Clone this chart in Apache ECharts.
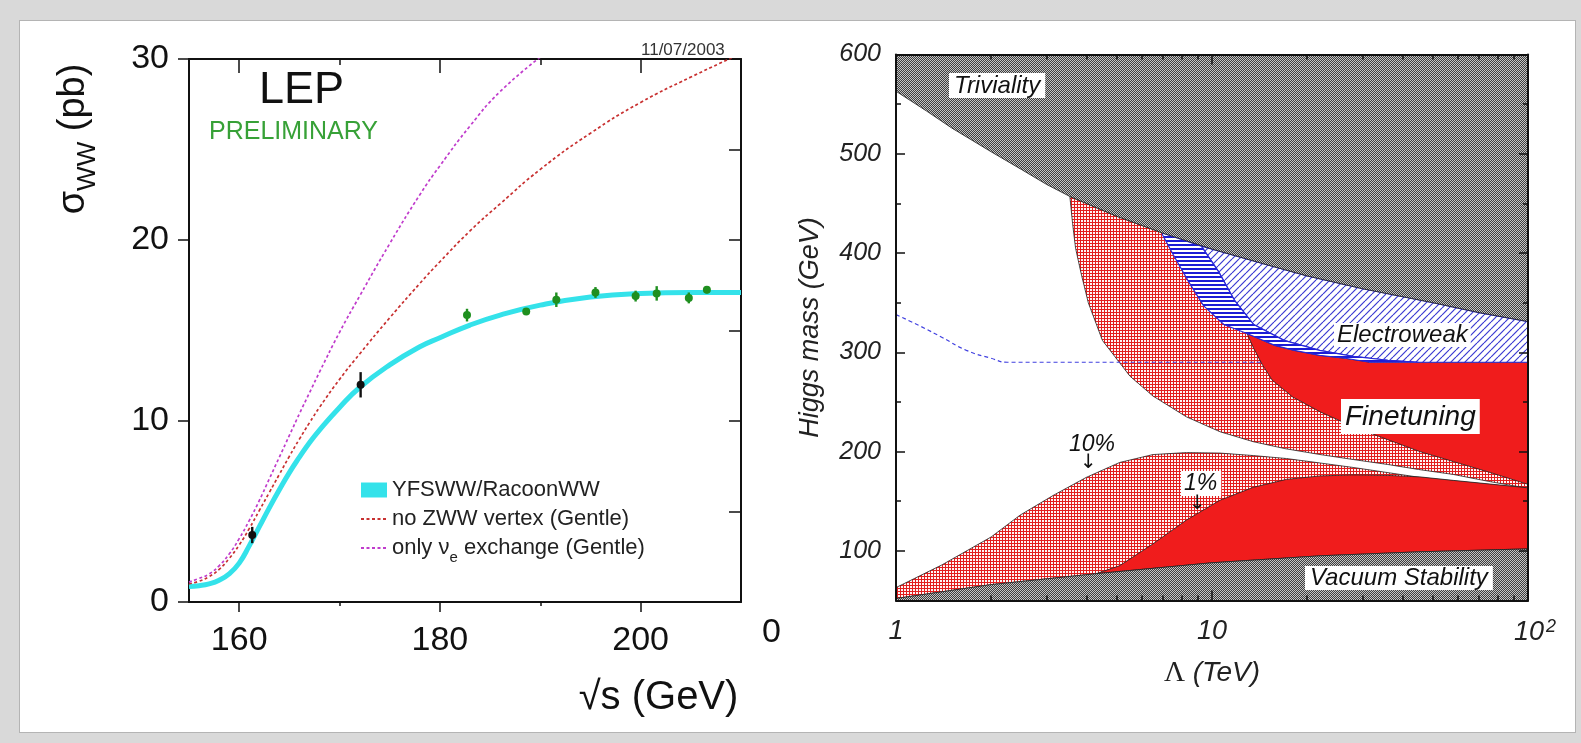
<!DOCTYPE html>
<html>
<head>
<meta charset="utf-8">
<script src="https://cdn.jsdelivr.net/npm/echarts@6/dist/echarts.min.js"></script>
<style>
  html, body { margin: 0; padding: 0; width: 1581px; height: 743px; overflow: hidden; background: #d9d9d9; }
  #frame { position: absolute; left: 19px; top: 20px; width: 1555px; height: 711px; background: #fff; border: 1px solid #b4b4b4; }
  #chart { position: absolute; left: 0; top: 0; width: 1581px; height: 743px; }
</style>
</head>
<body>
<div id="frame"></div>
<div id="chart"></div>
<script>
// ---- left panel: LEP W-pair cross section ----
const wwEnergy = [161.3, 172.1, 182.7, 188.6, 191.6, 195.5, 199.5, 201.6, 204.8, 206.6]
const wwSigma = [3.7, 12.0, 15.85, 16.05, 16.7, 17.1, 16.9, 17.05, 16.8, 17.25]
const wwError = [0.45, 0.7, 0.35, 0.15, 0.4, 0.3, 0.3, 0.4, 0.3, 0.2]

const curveEnergy = [155, 156, 157, 158, 159, 160, 161, 162, 163, 164, 165, 166, 167, 168, 170, 172, 175, 178, 180, 183, 186, 190, 195, 200, 205, 210]
const yfswwSigma = [0.85, 0.9, 1.0, 1.2, 1.55, 2.15, 3.1, 4.15, 5.2, 6.2, 7.15, 8.0, 8.8, 9.5, 10.75, 11.85, 13.1, 14.1, 14.6, 15.3, 15.85, 16.4, 16.85, 17.05, 17.1, 17.1]
const noZwwSigma = [1.0, 1.15, 1.4, 1.8, 2.4, 3.15, 4.05, 5.05, 6.05, 7.05, 8.05, 9.0, 9.9, 10.75, 12.3, 13.7, 15.7, 17.6, 18.8, 20.5, 22.0, 23.9, 25.9, 27.6, 29.0, 30.3]
const nueOnlySigma = [1.1, 1.3, 1.55, 2.0, 2.65, 3.5, 4.5, 5.6, 6.8, 8.0, 9.2, 10.4, 11.55, 12.7, 14.9, 16.9, 19.8, 22.5, 24.1, 26.3, 28.2, 30.1, null, null, null, null]

const sigmaTicks = [0, 10, 20, 30]
const energyTicks = [160, 180, 200]

// ---- right panel: Higgs mass bounds vs cutoff (pairs of [Lambda TeV, mH GeV]) ----
const trivialityEdge = [[1, 563], [1.25, 543], [1.5, 526], [2, 502], [2.5, 484], [3, 469], [3.55, 457], [5, 437], [7, 420], [10, 404], [15, 388], [20, 377], [30, 364], [50, 350], [70, 340], [100, 331]]
const fineTune10UpperEdge = [[3.55, 457], [3.62, 430], [3.7, 405], [3.85, 380], [4.06, 350], [4.5, 312], [5.5, 276], [6.5, 256], [8.3, 235], [10.6, 220], [13.5, 210], [17, 203], [22, 197], [28, 192], [36, 187], [45, 182], [58, 177], [75, 170], [100, 163]]
const fineTune1UpperEdge = [[12.9, 319], [13.55, 304], [14.4, 288], [15.5, 272], [18, 255], [22, 240], [28, 225], [36, 212], [45.5, 200], [58, 190], [74, 180], [100, 167]]
const ewOuterEdge = [[6.96, 419], [7.55, 398], [8.44, 371], [9.4, 347], [10.9, 328], [12.9, 319], [15.8, 307], [18.2, 302], [21.9, 297], [26.4, 294], [31.6, 290], [100, 290]]
const ewInnerEdge = [[9.25, 407], [10.5, 381], [11.8, 352], [13.55, 328], [16.9, 312], [21.9, 302], [28, 296], [36, 292], [45, 290]]
const ewDashed = [[1, 338], [1.2, 326], [1.4, 315], [1.67, 302], [2, 294], [2.25, 290], [14.4, 290]]
const fineTune10LowerTop = [[1, 63], [1.4, 86], [2, 114], [2.47, 136], [3.15, 156], [4, 174], [5.1, 189], [6.5, 197], [8.3, 199], [10.6, 198.5], [13.5, 196], [17.2, 193], [22, 188.5], [28, 184], [45.5, 174], [100, 163]]
const fineTune1LowerTop = [[4.3, 77], [5.1, 85], [6.5, 107], [8.3, 131], [10.6, 151], [13.5, 164], [17.2, 172], [22, 175.5], [28, 176.5], [36, 176], [45.5, 174.5], [58, 171], [100, 163.5]]
const vacuumEdge = [[1, 52], [2, 66], [4.3, 77], [10, 88], [22, 95], [45, 99], [100, 102]]

const lambdaTicks = [1, 10, 100]
const lambdaMinorTicks = [2, 3, 4, 5, 6, 7, 8, 9, 20, 30, 40, 50, 60, 70, 80, 90]
const massTicks = [100, 200, 300, 400, 500, 600]
const massMinorTicks = [150, 250, 350, 450, 550]

const SANS = "Liberation Sans"

function pattern(w, h, draw) {
  const c = document.createElement("canvas")
  c.width = w
  c.height = h
  draw(c.getContext("2d"))
  return { image: c, repeat: "repeat" }
}

const grayFill = pattern(2, 2, g => {
  g.fillStyle = "#3e3e3e"; g.fillRect(0, 0, 2, 2)
  g.fillStyle = "#c4c4c4"; g.fillRect(0, 0, 1, 1); g.fillRect(1, 1, 1, 1)
})
const crossFill = pattern(3, 3, g => {
  g.fillStyle = "#e21e1e"; g.fillRect(0, 0, 3, 3)
  g.fillStyle = "#fff4f4"; g.fillRect(1, 1, 2, 2)
})
const diagFill = pattern(7, 7, g => {
  g.fillStyle = "#fff"; g.fillRect(0, 0, 7, 7)
  g.strokeStyle = "#3a3ad2"; g.lineWidth = 1.2
  for (const k of [-7, 0, 7]) { g.beginPath(); g.moveTo(k, 7); g.lineTo(k + 7, 0); g.stroke() }
})
const hlineFill = pattern(4, 4, g => {
  g.fillStyle = "#fff"; g.fillRect(0, 0, 4, 4)
  g.fillStyle = "#1c1cd6"; g.fillRect(0, 0, 4, 2)
})

const above = (pts, l) => pts.filter(p => p[0] > l)
const rev = pts => pts.slice().reverse()

const polyTriv = trivialityEdge.concat([[100, 600], [1, 600]])
const polyVac = [[1, 50], [100, 50]].concat(rev(vacuumEdge))
const polyFt10Up = fineTune10UpperEdge.concat(rev(above(trivialityEdge, 3.55)))
const polyFt1Up = fineTune1UpperEdge.concat(rev(above(ewOuterEdge, 12.9)))
const polyEwHatch = ewInnerEdge.concat([[100, 290]], rev(above(trivialityEdge, 9.25)))
const polyEwBand = ewOuterEdge.filter(p => p[0] <= 45).concat([[45, 290]], rev(ewInnerEdge), [[7, 420]])
const polyFt10Low = vacuumEdge.concat(rev(fineTune10LowerTop))
const polyFt1Low = fineTune1LowerTop.concat(rev(above(vacuumEdge, 4.3)))

function region(points, fill, stroke, lw) {
  return {
    type: "custom",
    xAxisIndex: 4,
    yAxisIndex: 2,
    clip: true,
    silent: true,
    z: 2,
    data: [points[0]],
    renderItem: (params, api) => ({
      type: "polygon",
      shape: { points: points.map(p => api.coord(p)) },
      style: { fill: fill, stroke: stroke, lineWidth: lw }
    })
  }
}

function axis(grid, position, type, min, max, o) {
  const a = {
    gridIndex: grid, position: position, type: type, min: min, max: max,
    splitLine: { show: false },
    axisLine: { show: !!o.line, onZero: false, lineStyle: { color: "#111", width: 2 } },
    axisTick: { show: !!o.ticks, inside: !!o.inside, length: o.len || 6, customValues: o.ticks, lineStyle: { color: "#111", width: 1.5 } },
    axisLabel: { show: false },
    z: grid === 1 ? 10 : 0
  }
  if (type === "log") a.logBase = 10
  return a
}

const xAxes = [
  axis(0, "bottom", "value", 155, 210, { line: true, ticks: energyTicks, len: 10 }),
  axis(0, "bottom", "value", 155, 210, { ticks: [170, 190], len: 4 }),
  axis(0, "top", "value", 155, 210, { line: true, ticks: energyTicks, len: 14, inside: true }),
  axis(0, "top", "value", 155, 210, { ticks: [170, 190], len: 6, inside: true }),
  axis(1, "bottom", "log", 1, 100, { line: true, ticks: lambdaTicks, len: 10, inside: true }),
  axis(1, "bottom", "log", 1, 100, { ticks: lambdaMinorTicks, len: 5, inside: true }),
  axis(1, "top", "log", 1, 100, { line: true, ticks: lambdaTicks, len: 10, inside: true }),
  axis(1, "top", "log", 1, 100, { ticks: lambdaMinorTicks, len: 5, inside: true })
]
xAxes[0].axisLabel = { show: true, customValues: energyTicks, margin: 22, fontFamily: SANS, fontSize: 34, color: "#111" }
xAxes[0].name = "√s (GeV)"
xAxes[0].nameLocation = "middle"
xAxes[0].nameGap = 76
xAxes[0].nameTextStyle = { fontFamily: SANS, fontSize: 40, color: "#111", padding: [0, 0, 0, 387] }
xAxes[4].axisLabel = {
  show: true, customValues: lambdaTicks, margin: 17, color: "#222",
  formatter: v => v === 100 ? "{m|10}{e|2}" : "{n|" + v + "}",
  rich: {
    n: { fontFamily: SANS, fontStyle: "italic", fontSize: 27, color: "#222" },
    m: { fontFamily: SANS, fontStyle: "italic", fontSize: 27, color: "#222", padding: [0, 0, 0, 14] },
    e: { fontFamily: SANS, fontStyle: "italic", fontSize: 18, color: "#222", verticalAlign: "top", padding: [0, 0, 12, 2] }
  }
}
xAxes[4].name = "{l|Λ}{i| (TeV)}"
xAxes[4].nameLocation = "middle"
xAxes[4].nameGap = 58
xAxes[4].nameTextStyle = {
  rich: {
    l: { fontFamily: "Liberation Serif", fontSize: 29, color: "#222" },
    i: { fontFamily: SANS, fontStyle: "italic", fontSize: 28, color: "#222" }
  }
}

const yAxes = [
  axis(0, "left", "value", 0, 30, { line: true, ticks: sigmaTicks, len: 11 }),
  axis(0, "right", "value", 0, 30, { line: true, ticks: [5, 10, 15, 20, 25], len: 12, inside: true }),
  axis(1, "left", "value", 50, 600, { line: true, ticks: massTicks, len: 9, inside: true }),
  axis(1, "left", "value", 50, 600, { ticks: massMinorTicks, len: 5, inside: true }),
  axis(1, "right", "value", 50, 600, { line: true, ticks: massTicks, len: 9, inside: true }),
  axis(1, "right", "value", 50, 600, { ticks: massMinorTicks, len: 5, inside: true })
]
yAxes[0].axisLabel = { show: true, customValues: sigmaTicks, margin: 20, fontFamily: SANS, fontSize: 34, color: "#111" }
yAxes[0].name = "{s|σ}{sub|WW}{s| (pb)}"
yAxes[0].nameLocation = "middle"
yAxes[0].nameRotate = 90
yAxes[0].nameGap = 96
yAxes[0].nameTextStyle = {
  padding: [0, 0, 0, 383],
  rich: {
    s: { fontFamily: SANS, fontSize: 38, color: "#111" },
    sub: { fontFamily: SANS, fontSize: 26, color: "#111", verticalAlign: "bottom", padding: [0, 0, -8, 0] }
  }
}
yAxes[2].axisLabel = { show: true, customValues: massTicks, margin: 15, fontFamily: SANS, fontStyle: "italic", fontSize: 25, color: "#222" }
yAxes[2].name = "Higgs mass (GeV)"
yAxes[2].nameLocation = "middle"
yAxes[2].nameRotate = 90
yAxes[2].nameGap = 72
yAxes[2].nameTextStyle = { fontFamily: SANS, fontStyle: "italic", fontSize: 27, color: "#222" }

function note(text, left, top, size, extra, color) {
  return Object.assign({
    text: text, left: left, top: top, padding: 0,
    textStyle: { fontFamily: SANS, fontSize: size, fontWeight: "normal", color: color || "#111" }
  }, extra || {})
}
const boxed = (p) => ({ backgroundColor: "#fff", padding: p })
const italic = (t) => { t.textStyle.fontStyle = "italic"; return t }

const titles = [
  note("11/07/2003", 641, 42, 17, {}, "#333"),
  note("LEP", 259, 68, 45, {}),
  note("PRELIMINARY", 209, 120, 25, {}, "#37a137"),
  note("0", 762, 616, 34, {}),
  italic(note("Triviality", 949, 73, 24, boxed([1, 5, 0, 5]))),
  italic(note("Electroweak", 1334, 323, 24, boxed([0, 3, 0, 3]))),
  italic(note("Finetuning", 1341, 399, 28, boxed([4, 4, 3, 4]))),
  italic(note("10%", 1069, 433, 23, {})),
  note("↓", 1080, 453, 20, {}),
  italic(note("1%", 1181, 471, 23, boxed([1, 4, 1, 3]))),
  note("↓", 1189, 494, 20, {})
]
titles.push(italic(note("Vacuum Stability", 1305, 566, 24, boxed([0, 5, 0, 5]))))
titles.forEach(t => { if (t.text === "↓") t.textStyle.fontFamily = "DejaVu Sans" })

const option = {
  animation: false,
  backgroundColor: "transparent",
  textStyle: { fontFamily: SANS },
  title: titles,
  grid: [
    { left: 189, top: 59, width: 552, height: 543 },
    { left: 896, top: 54.5, width: 632, height: 546 }
  ],
  xAxis: xAxes,
  yAxis: yAxes,
  legend: {
    orient: "vertical",
    left: 355,
    top: 474,
    itemWidth: 26,
    itemHeight: 15,
    itemGap: 7,
    selectedMode: false,
    data: [
      { name: "YFSWW/RacoonWW", icon: "rect" },
      { name: "no ZWW vertex (Gentle)", itemStyle: { opacity: 0 } },
      { name: "only νe exchange (Gentle)", itemStyle: { opacity: 0 } }
    ],
    formatter: n => n === "only νe exchange (Gentle)" ? "only ν{sub|e} exchange (Gentle)" : n,
    textStyle: {
      fontFamily: SANS, fontSize: 22, color: "#222",
      rich: { sub: { fontFamily: SANS, fontSize: 15, color: "#222", verticalAlign: "bottom", padding: [0, 0, -6, 0] } }
    }
  },
  series: [
    {
      name: "YFSWW/RacoonWW", type: "line", xAxisIndex: 0, yAxisIndex: 0,
      symbol: "none", smooth: true, color: "#34e2ea", z: 2,
      lineStyle: { width: 5, color: "#34e2ea" },
      data: curveEnergy.map((e, i) => [e, yfswwSigma[i]])
    },
    {
      name: "no ZWW vertex (Gentle)", type: "line", xAxisIndex: 0, yAxisIndex: 0,
      symbol: "none", smooth: true, color: "#c83030", z: 3,
      lineStyle: { width: 1.7, type: [3, 2.5], color: "#c83030" },
      data: curveEnergy.map((e, i) => [e, noZwwSigma[i]])
    },
    {
      name: "only νe exchange (Gentle)", type: "line", xAxisIndex: 0, yAxisIndex: 0,
      symbol: "none", smooth: true, color: "#c03ccc", z: 3,
      lineStyle: { width: 1.7, type: [3, 2.5], color: "#c03ccc" },
      data: curveEnergy.map((e, i) => [e, nueOnlySigma[i]])
    },
    {
      name: "LEP data", type: "custom", xAxisIndex: 0, yAxisIndex: 0, z: 6,
      data: wwEnergy.map((e, i) => [e, wwSigma[i], wwError[i]]),
      renderItem: (params, api) => {
        const x = api.value(0), y = api.value(1), err = api.value(2)
        const c = api.coord([x, y])
        const lo = api.coord([x, y - err])
        const hi = api.coord([x, y + err])
        const col = x < 175 ? "#111" : "#1f8f1f"
        return {
          type: "group",
          children: [
            { type: "line", shape: { x1: c[0], y1: lo[1], x2: c[0], y2: hi[1] }, style: { stroke: col, lineWidth: 2.4 } },
            { type: "circle", shape: { cx: c[0], cy: c[1], r: 4 }, style: { fill: col } }
          ]
        }
      }
    },
    region(polyFt10Up, crossFill, "#222", 0.8),
    region(polyFt1Up, "#f01c1c", "#222", 0.8),
    region(polyEwHatch, diagFill, "#2828d8", 1.2),
    region(polyEwBand, hlineFill, "#2828d8", 1.2),
    region(polyFt10Low, crossFill, "#222", 0.8),
    region(polyFt1Low, "#f01c1c", "#222", 0.8),
    region(polyVac, grayFill, "#222", 0.8),
    region(polyTriv, grayFill, "#222", 0.8),
    {
      name: "EW dashed", type: "line", xAxisIndex: 4, yAxisIndex: 2,
      symbol: "none", smooth: true, silent: true, z: 5,
      lineStyle: { width: 1.2, type: [4, 3], color: "#4040e0" },
      data: ewDashed
    }
  ]
}

const chart = echarts.init(document.getElementById("chart"))
chart.setOption(option)
window.addEventListener("resize", () => chart.resize())
</script>
</body>
</html>
